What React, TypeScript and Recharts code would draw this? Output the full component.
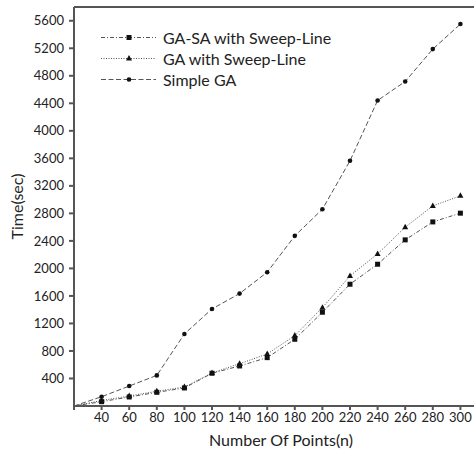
import React from 'react';
import { LineChart, Line, XAxis, YAxis, ReferenceLine } from 'recharts';

// Number of points (x), first point sits on the axis origin
const points = [20, 40, 60, 80, 100, 120, 140, 160, 180, 200, 220, 240, 260, 280, 300];
const gaSaSweep = [0, 63, 131, 199, 262, 476, 582, 703, 970, 1363, 1770, 2061, 2415, 2676, 2803];
const gaSweep = [0, 80, 145, 215, 275, 480, 615, 756, 1023, 1430, 1891, 2211, 2599, 2909, 3055];
const simpleGa = [0, 135, 290, 445, 1047, 1411, 1634, 1945, 2473, 2861, 3564, 4441, 4717, 5188, 5552];

const xTicks = [20, 40, 60, 80, 100, 120, 140, 160, 180, 200, 220, 240, 260, 280, 300];
const yTicks = [400, 800, 1200, 1600, 2000, 2400, 2800, 3200, 3600, 4000, 4400, 4800, 5200, 5600];

const data = points.map((n, i) => ({
  n,
  gaSa: gaSaSweep[i],
  ga: gaSweep[i],
  simple: simpleGa[i],
}));

const FONT = 'Lato, "Noto Sans", sans-serif';
const LINE = '#555';
const MARK = '#111';

type Shape = 'square' | 'triangle' | 'circle';

const marker = (shape: Shape, cx: number, cy: number) => {
  if (shape === 'square') return <rect x={cx - 2.5} y={cy - 2.5} width={5} height={5} fill={MARK} />;
  if (shape === 'triangle')
    return <polygon points={`${cx},${cy - 3.5} ${cx + 3},${cy + 2} ${cx - 3},${cy + 2}`} fill={MARK} />;
  return <circle cx={cx} cy={cy} r={2.3} fill={MARK} />;
};

const makeDot = (shape: Shape) => (props: any) => {
  const { cx, cy, index } = props;
  if (index === 0 || cx == null || cy == null) return <g key={`d-${shape}-${index}`} />;
  return <g key={`d-${shape}-${index}`}>{marker(shape, cx, cy)}</g>;
};

const series = [
  { key: 'gaSa', name: 'GA-SA with Sweep-Line', dash: '4 2 1 2', shape: 'square' as Shape },
  { key: 'ga', name: 'GA with Sweep-Line', dash: '1 1.5', shape: 'triangle' as Shape },
  { key: 'simple', name: 'Simple GA', dash: '5 2.5', shape: 'circle' as Shape },
];

// legend drawn as an overlay so it doesn't eat into the plot area
const LegendBox = () => (
  <div style={{ position: 'absolute', left: 100, top: 27, fontFamily: FONT, fontSize: 16, color: '#222' }}>
    {series.map((s) => (
      <div key={s.key} style={{ display: 'flex', alignItems: 'center', height: 21 }}>
        <svg width={60} height={21} style={{ display: 'block' }}>
          <line x1={1} y1={10.5} x2={56} y2={10.5} stroke={LINE} strokeWidth={1} strokeDasharray={s.dash} />
          {marker(s.shape, 29, 10.5)}
        </svg>
        <span style={{ marginLeft: 3 }}>{s.name}</span>
      </div>
    ))}
  </div>
);

const YTitle = (props: any) => {
  const vb = props.viewBox || {};
  const x = 16;
  const y = (vb.y || 0) + (vb.height || 0) / 2;
  return (
    <text x={x} y={y} transform={`rotate(-90, ${x}, ${y})`} textAnchor="middle" dominantBaseline="central"
      fontFamily={FONT} fontSize={16} fill="#222">
      Time(sec)
    </text>
  );
};

export default function App() {
  return (
    <div style={{ position: 'absolute', left: 0, top: 0, width: 474, height: 449, overflow: 'hidden', background: '#fff' }}>
      <LineChart width={490} height={449} data={data} margin={{ top: 7, right: 2, left: 0, bottom: 0 }}>
        <XAxis
          dataKey="n"
          type="number"
          domain={[20, 320]}
          ticks={xTicks}
          allowDataOverflow
          tickFormatter={(v: number) => (v === 20 ? '' : String(v))}
          height={43}
          tickSize={4}
          tickMargin={3}
          stroke={LINE}
          strokeWidth={2}
          tick={{ fill: '#222', fontSize: 13, fontFamily: FONT }}
          label={{ value: 'Number Of Points(n)', position: 'insideBottom', offset: 3, fill: '#222', fontSize: 16, fontFamily: FONT }}
        />
        <YAxis
          type="number"
          domain={[0, 5800]}
          ticks={yTicks}
          width={74}
          tickSize={5}
          tickMargin={5}
          stroke={LINE}
          strokeWidth={2}
          tick={{ fill: '#222', fontSize: 13, fontFamily: FONT }}
          label={{ content: YTitle }}
        />
        <ReferenceLine y={5800} stroke={LINE} strokeWidth={2} />
        {series.map((s) => (
          <Line
            key={s.key}
            dataKey={s.key}
            name={s.name}
            stroke={LINE}
            strokeWidth={1}
            strokeDasharray={s.dash}
            dot={makeDot(s.shape)}
            activeDot={false}
            isAnimationActive={false}
          />
        ))}
      </LineChart>
      <LegendBox />
    </div>
  );
}
